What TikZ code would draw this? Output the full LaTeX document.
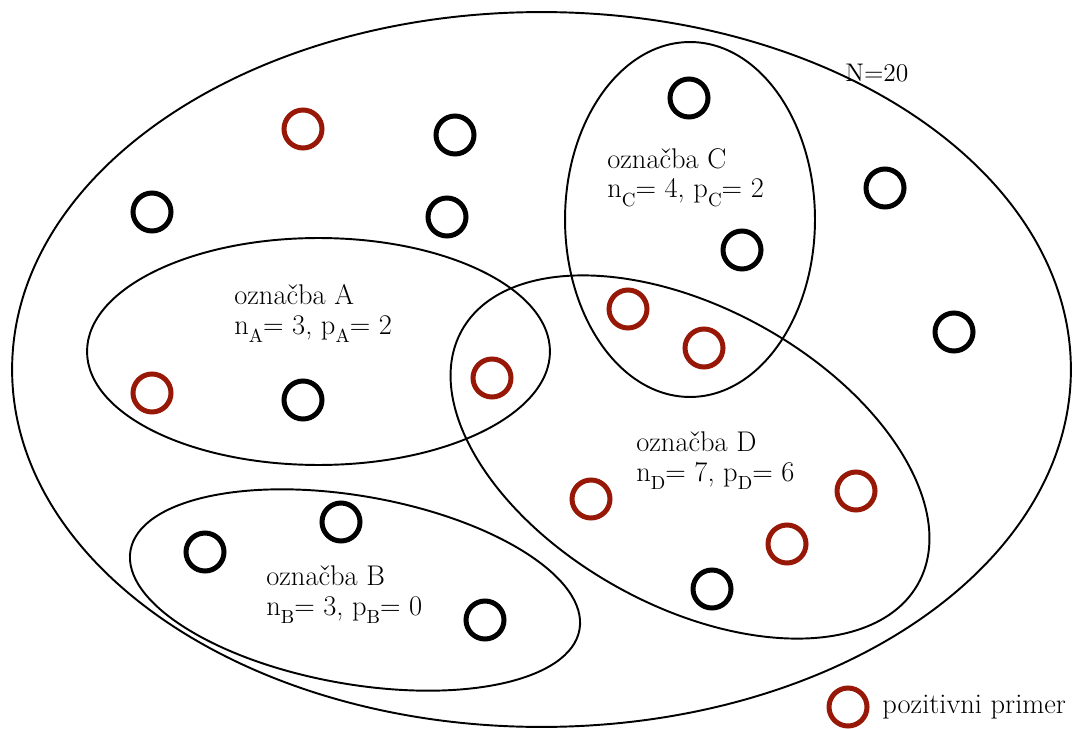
\documentclass[tikz,border=0pt]{standalone}
\usepackage{fontspec}
\usetikzlibrary{shapes.geometric}
\definecolor{posred}{RGB}{152,24,8}
\newcommand{\lblsub}[1]{\raisebox{-5pt}{\fontsize{10.8}{11}\selectfont #1}}
\begin{document}
\begin{tikzpicture}[x=0.02cm,y=-0.02cm,
  setell/.style={ellipse, draw=black, line width=1.1pt, inner sep=0pt, outer sep=0pt},
  negex/.style={circle, draw=black, line width=2.85pt, minimum size=0.76cm, inner sep=0pt},
  posex/.style={negex, draw=posred},
  lbl/.style={font=\fontsize{16.2}{17}\selectfont, inner sep=0pt, anchor=base west, align=left}]
\useasboundingbox (0,0) rectangle (1084,729);
% sets
\node[setell, minimum width=21.18cm, minimum height=14.3cm] (all) at (541.5,369.5) {};
\node[setell, minimum width=9.26cm, minimum height=4.54cm] (A) at (318.5,351.5) {};
\node[setell, minimum width=9.12cm, minimum height=3.76cm, rotate=-10] (B) at (355,590) {};
\node[setell, minimum width=5.0cm, minimum height=7.1cm] (C) at (690,219.5) {};
\node[setell, minimum width=10.44cm, minimum height=5.96cm, rotate=-29] (D) at (690,457) {};
% examples
\node[posex] (r1) at (303,129) {};
\node[negex] (k1) at (455,135) {};
\node[negex] (k2) at (152,212) {};
\node[negex] (k3) at (447,217) {};
\node[negex] (k4) at (689,98) {};
\node[negex] (k5) at (885,188) {};
\node[negex] (k6) at (742,250) {};
\node[negex] (k7) at (954,332) {};
\node[posex] (r2) at (628,309) {};
\node[posex] (r3) at (704,348) {};
\node[posex] (r4) at (492,378) {};
\node[posex] (r5) at (152,393) {};
\node[negex] (k8) at (303,400) {};
\node[posex] (r6) at (591,499) {};
\node[posex] (r7) at (856,491) {};
\node[posex] (r8) at (787,544) {};
\node[negex] (k9) at (341,522) {};
\node[negex] (k10) at (205,552) {};
\node[negex] (k11) at (485,620) {};
\node[negex] (k12) at (712,589) {};
% labels (anchor = baseline of the last line)
\node[lbl] (tA) at (234,334) {označba A\\n\lblsub{A}= 3, p\lblsub{A}= 2};
\node[lbl] (tB) at (266,615) {označba B\\n\lblsub{B}= 3, p\lblsub{B}= 0};
\node[lbl] (tC) at (607,198) {označba C\\n\lblsub{C}= 4, p\lblsub{C}= 2};
\node[lbl] (tD) at (636,481) {označba D\\n\lblsub{D}= 7, p\lblsub{D}= 6};
\node[lbl, font=\fontsize{14.5}{16.8}\selectfont] (tN) at (845,82) {N=20};
% legend
\node[posex] (leg) at (848,707) {};
\node[lbl] (tleg) at (882,713) {pozitivni primer};
\end{tikzpicture}
\end{document}
